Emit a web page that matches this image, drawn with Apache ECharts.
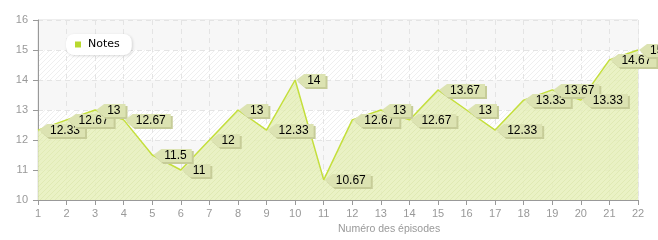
<!DOCTYPE html>
<html><head><meta charset="utf-8">
<script src="https://cdn.jsdelivr.net/npm/echarts@6/dist/echarts.min.js"></script>
<style>html,body{margin:0;padding:0;background:#fff}#c{width:658px;height:240px}</style>
</head><body><div id="c"></div>
<script>
const categories = ['1','2','3','4','5','6','7','8','9','10','11','12','13','14','15','16','17','18','19','20','21','22'];
const notes = [12.33, 12.67, 13, 12.67, 11.5, 11, 12, 13, 12.33, 14, 10.67, 12.67, 13, 12.67, 13.67, 13, 12.33, 13.33, 13.67, 13.33, 14.67, 15];
const seriesName = 'Notes';
const axisName = 'Numéro des épisodes';

function hatch(bg, line, size) {
  const c = document.createElement('canvas');
  c.width = size; c.height = size;
  const g = c.getContext('2d');
  g.fillStyle = bg; g.fillRect(0, 0, size, size);
  g.strokeStyle = line; g.lineWidth = 1;
  g.beginPath();
  g.moveTo(-1, size + 1); g.lineTo(size + 1, -1);
  g.moveTo(-1, 1); g.lineTo(1, -1);
  g.moveTo(size - 1, size + 1); g.lineTo(size + 1, size - 1);
  g.stroke();
  return { image: c, repeat: 'repeat' };
}
const bgHatch = hatch('#ffffff', '#efefef', 5);
const greenHatch = hatch('#e7f0bb', '#dde9aa', 5);

const mc = document.createElement('canvas').getContext('2d');
mc.font = '12px "Liberation Sans", Arial, sans-serif';
const axisFont = '"Liberation Sans", Arial, sans-serif';

const chart = echarts.init(document.getElementById('c'), null, { renderer: 'canvas' });
chart.setOption({
  animation: false,
  grid: { left: 38, right: 20, top: 20, bottom: 40, show: true, borderColor: '#dddddd', borderWidth: 1, backgroundColor: 'transparent' },
  legend: {
    data: [seriesName], left: 66, top: 34,
    icon: 'rect', itemWidth: 6, itemHeight: 6, itemGap: 10,
    padding: [5, 12, 5, 9],
    backgroundColor: '#ffffff', borderRadius: 8,
    shadowColor: 'rgba(0,0,0,0.15)', shadowBlur: 3, shadowOffsetX: 1, shadowOffsetY: 1,
    textStyle: { color: '#000', fontSize: 11, fontFamily: '"DejaVu Sans", sans-serif', padding: [0, 0, 0, 2] }
  },
  xAxis: {
    type: 'category', data: categories, boundaryGap: false,
    name: axisName, nameLocation: 'middle', nameGap: 21,
    nameTextStyle: { color: '#999', fontSize: 10.5, align: 'left', fontFamily: axisFont },
    axisLine: { lineStyle: { color: '#999' } },
    axisTick: { show: true, length: 5, lineStyle: { color: '#999' } },
    axisLabel: { color: '#999', fontSize: 11, margin: 8, fontFamily: axisFont },
    splitLine: { show: true, lineStyle: { color: '#e4e4e4', type: [5, 4] } }
  },
  yAxis: {
    type: 'value', min: 10, max: 16, interval: 1,
    axisLine: { show: true, lineStyle: { color: '#999' } },
    axisTick: { show: true, length: 5, lineStyle: { color: '#999' } },
    axisLabel: { color: '#999', fontSize: 11, margin: 10, fontFamily: axisFont },
    splitLine: { show: true, lineStyle: { color: '#e4e4e4', type: [5, 4] } },
    splitArea: { show: true, areaStyle: { color: [bgHatch, '#f7f7f7'] } }
  },
  series: [
    {
      name: seriesName, type: 'line', data: notes, symbol: 'none',
      lineStyle: { color: '#c4df3c', width: 1.5 },
      itemStyle: { color: '#b8d92e' },
      areaStyle: { color: greenHatch, opacity: 0.85, origin: 'start' },
      z: 2
    },
    {
      type: 'custom', name: 'labels', silent: true, clip: false, z: 5,
      data: notes.map((v, i) => [i, v]),
      renderItem: function (params, api) {
        const p = api.coord([api.value(0), api.value(1)]);
        const txt = String(api.value(1));
        const w = mc.measureText(txt).width + 7;
        const x = p[0] + 1, y = p[1];
        const pts = [[x, y], [x + 8, y - 6], [x + 9 + w, y - 6], [x + 9 + w, y + 7], [x + 8, y + 7]];
        const sh = pts.map(q => [q[0] + 2, q[1] + 2]);
        return {
          type: 'group', children: [
            { type: 'polygon', shape: { points: sh }, style: { fill: '#c6cc98' } },
            { type: 'polygon', shape: { points: pts }, style: { fill: '#dce3b2' } },
            { type: 'text', style: { text: txt, x: x + 11, y: y + 1, textVerticalAlign: 'middle', verticalAlign: 'middle', fill: '#000', font: '12px "Liberation Sans", Arial, sans-serif' } }
          ]
        };
      }
    }
  ]
});
</script></body></html>
